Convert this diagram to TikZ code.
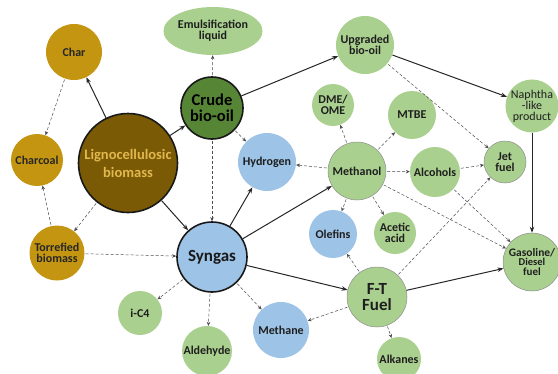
\documentclass[tikz,border=0pt]{standalone}
\usepackage{fontspec}
\setmainfont{Carlito}
\usetikzlibrary{arrows.meta,shapes.geometric}
\definecolor{ochre}{HTML}{C39511}
\definecolor{brownb}{HTML}{7A5A05}
\definecolor{tanTxt}{HTML}{E2B84E}
\definecolor{dgreen}{HTML}{568535}
\definecolor{lgreen}{HTML}{AAD08F}
\definecolor{lblue}{HTML}{9DC3E6}
\definecolor{txt}{HTML}{1E1E1E}
\begin{document}
\begin{tikzpicture}[x=1pt,y=-1pt,
  bub/.style={circle, inner sep=0pt, minimum size=#1, align=center, text=txt,
              font=\fontsize{12}{11}\selectfont\bfseries},
  gr/.style={fill=lgreen},
  grb/.style={fill=lgreen, draw=black!45, line width=0.5pt},
  bl/.style={fill=lblue},
  oc/.style={fill=ochre, text=black!85},
  heavy/.style={draw=black!90, line width=1.6pt},
  sol/.style={draw=black!85, line width=1pt, -{Stealth[length=6pt,width=4.5pt]}},
  das/.style={draw=black!70, line width=0.5pt, densely dashed, shorten <=1pt, -{Stealth[length=4pt,width=3.5pt]}}
]
\useasboundingbox (0,0) rectangle (558,373);

% nodes
\node[bub=56, oc] (char) at (74,52) {Char};
\node[ellipse, inner sep=0pt, minimum width=84pt, minimum height=48pt, gr, align=center, text=txt,
      font=\fontsize{12}{11}\selectfont\bfseries] (emul) at (213,31) {Emulsification\\liquid};
\node[bub=62, fill=dgreen, heavy, text=black, font=\fontsize{16.5}{15.5}\selectfont\bfseries] (crude) at (212,108) {Crude\\bio-oil};
\node[bub=99, fill=brownb, heavy, text=tanTxt, font=\fontsize{14.5}{18}\selectfont\bfseries] (ligno) at (128,163) {Lignocellulosic\\biomass};
\node[bub=52, oc] (charcoal) at (37,160) {Charcoal};
\node[bub=55, oc] (torref) at (57,253) {Torrefied\\biomass};
\node[bub=70, bl, heavy, text=black!90, font=\fontsize{17}{15}\selectfont\bfseries] (syngas) at (212,257) {Syngas};
\node[bub=44, gr] (ic4) at (140,313) {i-C4};
\node[bub=50, gr] (ald) at (207,351) {Aldehyde};
\node[bub=56, bl] (methane) at (281,330) {Methane};
\node[bub=58, bl] (hydrogen) at (267,162) {Hydrogen};
\node[bub=58, grb] (methanol) at (357,171) {Methanol};
\node[bub=42, gr] (dme) at (333,105) {DME/\\OME};
\node[bub=48, gr] (mtbe) at (412,115) {MTBE};
\node[bub=58, gr] (upg) at (365,45) {Upgraded\\bio-oil};
\node[bub=50, gr, font=\fontsize{12}{11}\selectfont] (naph) at (532,106) {Naphtha\\-like\\product};
\node[bub=42, grb] (jet) at (505,162) {Jet\\fuel};
\node[bub=50, gr] (alc) at (435,172) {Alcohols};
\node[bub=48, bl] (olef) at (333,234) {Olefins};
\node[bub=42, gr] (acet) at (395,233) {Acetic\\acid};
\node[bub=60, grb, font=\fontsize{17}{16}\selectfont\bfseries] (ft) at (377,297) {F-T\\Fuel};
\node[bub=58, grb, font=\fontsize{11.5}{10}\selectfont\bfseries] (gas) at (532,262) {Gasoline/\\{\fontsize{10.5}{9.5}\selectfont Diesel}\\{\fontsize{11}{9.5}\selectfont fuel}};
\node[bub=44, gr] (alk) at (399,359) {Alkanes};

% solid connectors
\draw[sol] (ligno) -- (char);
\draw[sol] (ligno) -- (crude);
\draw[sol] (ligno) -- (syngas);
\draw[sol] (crude) -- (upg);
\draw[sol] (upg) -- (naph);
\draw[sol] (naph) -- (gas);
\draw[sol] (syngas) -- (hydrogen);
\draw[sol] (syngas) -- (methanol);
\draw[sol] (syngas) -- (ft);
\draw[sol] (ft) -- (gas);

% dashed connectors
\draw[das] (char) -- (charcoal);
\draw[das] (torref) -- (charcoal);
\draw[das] (ligno) -- (torref);
\draw[das] (torref) -- (syngas);
\draw[das] (crude) -- (emul);
\draw[das] (crude) -- (hydrogen);
\draw[das] (crude) -- (syngas);
\draw[das] (syngas) -- (ic4);
\draw[das] (syngas) -- (ald);
\draw[das] (syngas) -- (methane);
\draw[das] (methanol) -- (hydrogen);
\draw[das] (methanol) -- (dme);
\draw[das] (methanol) -- (mtbe);
\draw[das] (methanol) -- (alc);
\draw[das] (methanol) -- (olef);
\draw[das] (methanol) -- (acet);
\draw[das] (methanol) -- (gas);
\draw[das] (alc) -- (jet);
\draw[das] (alc) -- (gas);
\draw[das] (upg) -- (jet);
\draw[das] (ft) -- (jet);
\draw[das] (ft) -- (olef);
\draw[das] (ft) -- (methane);
\draw[das] (ft) -- (alk);
\end{tikzpicture}
\end{document}
